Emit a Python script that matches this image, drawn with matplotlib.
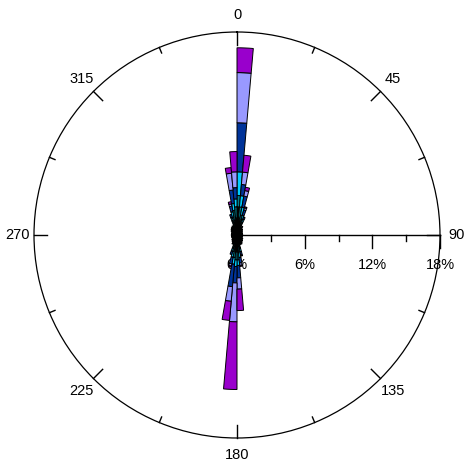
import numpy as np
import matplotlib
matplotlib.use("Agg")
import matplotlib.pyplot as plt
from matplotlib.transforms import offset_copy

plt.rcParams['font.family'] = ['Liberation Sans', 'DejaVu Sans']

# direction bins: 5 degree sectors starting at 0 (clockwise from north), frequency in %
bin_width = 5
# lowest speed class (black) for all 72 sectors
calm = [2.5, 1.5, 1.2, 1.0, 0.9, 0.8, 0.9, 0.7, 0.7, 0.6, 0.6, 0.5,
        0.5, 0.5, 0.5, 0.5, 0.5, 0.5, 0.5, 0.5, 0.5, 0.5, 0.5, 0.5,
        0.6, 0.6, 0.6, 0.7, 0.7, 0.8, 0.9, 0.8, 0.9, 0.9, 1.0, 1.5,
        1.5, 1.4, 1.0, 0.9, 0.8, 0.9, 0.7, 0.7, 0.6, 0.6, 0.5, 0.5,
        0.5, 0.5, 0.5, 0.5, 0.5, 0.5, 0.5, 0.5, 0.5, 0.5, 0.5, 0.5,
        0.6, 0.6, 0.7, 0.7, 0.8, 0.8, 0.9, 0.8, 0.9, 1.1, 1.3, 1.5]
# higher speed classes, only in the sectors around north and south
sectors = [340, 345, 350, 355, 0, 5, 10, 15, 20, 165, 170, 175, 180, 185, 190, 195]
teal    = [0.4, 0.5, 0.9, 1.0, 1.0, 1.0, 0.6, 0.4, 0.3, 0.3, 0.5, 0.7, 0.7, 0.6, 0.5, 0.3]
cyan    = [0.3, 0.5, 0.6, 0.7, 2.1, 1.0, 0.7, 0.4, 0.3, 0.3, 0.5, 0.5, 0.6, 0.6, 0.5, 0.3]
dblue   = [0.3, 0.5, 1.2, 1.0, 4.35, 1.0, 1.0, 0.5, 0.2, 0.3, 0.5, 1.1, 1.45, 2.0, 0.6, 0.3]
lav     = [0.0, 0.2, 1.5, 1.4, 4.45, 1.1, 0.5, 0.2, 0.0, 0.1, 0.2, 1.0, 3.45, 1.3, 0.2, 0.0]
purple  = [0.0, 0.2, 0.5, 1.8, 2.2, 1.5, 0.3, 0.1, 0.0, 0.0, 0.1, 1.9, 6.0, 1.7, 0.1, 0.0]
class_colors = ['#000000', '#00808f', '#00ccff', '#003399', '#9999ff', '#9900cc']

angle_labels = ['0', '45', '90', '135', '180', '225', '270', '315']
r_ticks = [0, 6, 12, 18]
r_labels = ['0%', '6%', '12%', '18%']
rmax = 18

nb = 360 // bin_width
starts = np.arange(nb) * bin_width
table = np.zeros((6, nb))
table[0] = calm
for k, s in enumerate(sectors):
    j = s // bin_width
    for c, arr in enumerate([teal, cyan, dblue, lav, purple]):
        table[c + 1, j] = arr[k]

W, H = 472, 469
fig = plt.figure(figsize=(W / 100, H / 100), dpi=100)
cx, cy, R = 237, 235, 203
ax = fig.add_axes([(cx - R) / W, (H - cy - R) / H, 2 * R / W, 2 * R / H], projection='polar')
ax.set_theta_zero_location('N')
ax.set_theta_direction(-1)
ax.set_ylim(0, rmax)
ax.set_xticks([])
ax.set_yticks([])
ax.grid(False)
ax.spines['polar'].set_linewidth(0.9)

# radial axis along east, ticks pointing down
ax.plot([np.pi / 2, np.pi / 2], [0, rmax], color='black', lw=1.0, zorder=1, clip_on=False)
px = 1.0 / (R / rmax)  # one pixel in data units
for r in range(3, rmax + 1, 3):
    d = (13 if r % 6 == 0 else 6) * px
    ax.plot([np.pi / 2, np.pi / 2 + np.arctan2(d, r)], [r, np.hypot(r, d)],
            color='black', lw=1.0, zorder=1, clip_on=False)
lab_tr = offset_copy(ax.transData, fig=fig, x=0, y=-30, units='dots')
for r, t in zip(r_ticks, r_labels):
    ax.text(np.pi / 2, r, t, transform=lab_tr, ha='center', va='center', fontsize=10.5, zorder=1)

# angular ticks and labels
for a in np.arange(0, 360, 22.5):
    L = (13 if a % 45 == 0 else 6) * px
    th = np.deg2rad(a)
    ax.plot([th, th], [rmax, rmax - L], color='black', lw=1.0, zorder=1, clip_on=False)
for a, t in zip(range(0, 360, 45), angle_labels):
    ax.text(np.deg2rad(a), rmax + 17 * px, t, ha='center', va='center', fontsize=10.5)

# stacked sectors
bottom = np.zeros(nb)
theta = np.deg2rad(starts)
for c in range(6):
    vals = table[c]
    m = vals > 0
    ax.bar(theta[m], vals[m], width=np.deg2rad(bin_width), bottom=bottom[m], align='edge',
           color=class_colors[c], edgecolor='black', linewidth=0.7, zorder=3)
    bottom += vals

fig.savefig('out.png', dpi=100)
